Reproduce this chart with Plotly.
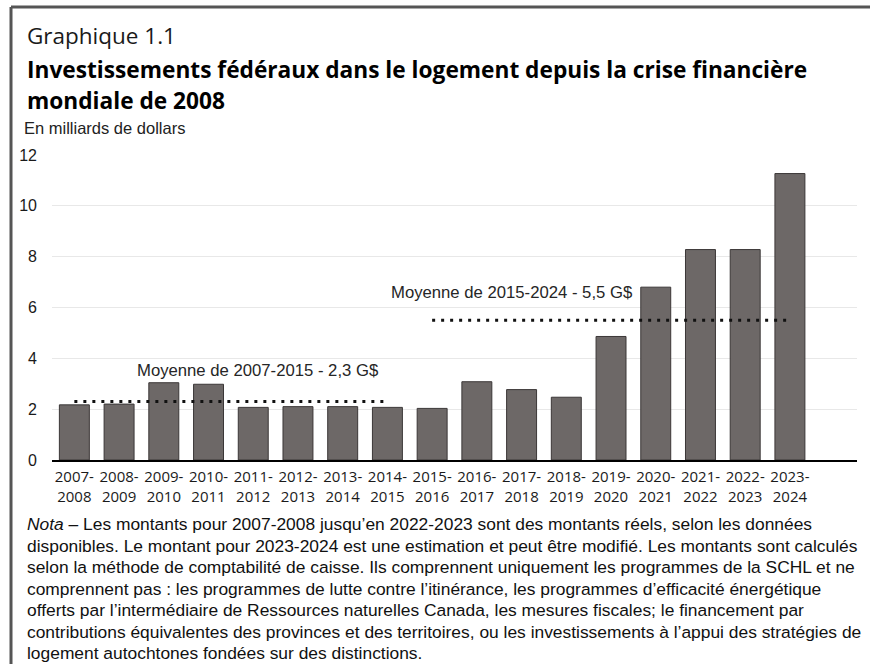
"""Graphique 1.1 - federal housing investments since the 2008 financial crisis."""

import plotly.graph_objects as go

# Data (billions of dollars)
years = [
    "2007-2008", "2008-2009", "2009-2010", "2010-2011", "2011-2012",
    "2012-2013", "2013-2014", "2014-2015", "2015-2016", "2016-2017",
    "2017-2018", "2018-2019", "2019-2020", "2020-2021", "2021-2022",
    "2022-2023", "2023-2024",
]
amounts = [
    2.17, 2.2, 3.04, 2.98, 2.07, 2.1, 2.1, 2.07, 2.03,
    3.08, 2.77, 2.47, 4.86, 6.8, 8.28, 8.28, 11.27,
]
avg_periods = ["2007-2015", "2015-2024"]
avg_values = [2.3, 5.5]
avg_spans = [("2007-2008", "2014-2015"), ("2015-2016", "2023-2024")]

title_small = "Graphique 1.1"
title_lines = [
    "Investissements fédéraux dans le logement depuis la crise financière",
    "mondiale de 2008",
]
unit_label = "En milliards de dollars"
note_lines = [
    "<i>Nota</i> – Les montants pour 2007-2008 jusqu’en 2022-2023 sont des montants réels, selon les données",
    "disponibles. Le montant pour 2023-2024 est une estimation et peut être modifié. Les montants sont calculés",
    "selon la méthode de comptabilité de caisse. Ils comprennent uniquement les programmes de la SCHL et ne",
    "comprennent pas : les programmes de lutte contre l’itinérance, les programmes d’efficacité énergétique",
    "offerts par l’intermédiaire de Ressources naturelles Canada, les mesures fiscales; le financement par",
    "contributions équivalentes des provinces et des territoires, ou les investissements à l’appui des stratégies de",
    "logement autochtones fondées sur des distinctions.",
]

W, H = 870, 664
L, R, T, B = 52, 13, 155, 204
PLOT_W = W - L - R
PLOT_H = H - T - B


def px(x):
    return (x - L) / PLOT_W


def py(y):
    return (H - B - y) / PLOT_H


def cat_label(s):
    a, b = s.split("-")
    return f"{a}-<br>{b}"


cats = [cat_label(y) for y in years]

fig = go.Figure()

fig.add_trace(
    go.Bar(
        x=cats,
        y=amounts,
        marker={"color": "#6d6867", "line": {"color": "#3b3737", "width": 1}},
        showlegend=False,
        hoverinfo="x+y",
    )
)

label_offsets = [(4.11, 3.54), (9.79, 6.6)]
for period, val, (start, end), (ax, ay) in zip(
    avg_periods, avg_values, avg_spans, label_offsets
):
    fig.add_trace(
        go.Scatter(
            x=[cat_label(start), cat_label(end)],
            y=[val, val],
            mode="lines",
            line={"color": "#111111", "width": 3, "dash": "3px,6px"},
            showlegend=False,
            hoverinfo="skip",
        )
    )
    fig.add_annotation(
        x=ax, y=ay, xref="x", yref="y",
        text=f"Moyenne de {period} - {str(val).replace('.', ',')} G$",
        showarrow=False, xanchor="center", yanchor="middle",
        font={"family": "Liberation Sans, Arial", "size": 16.7, "color": "#262626"},
    )

annotations = [
    (25, 35, title_small, {"family": "Open Sans", "size": 22.5, "color": "#1a1a1a"}),
    (25, 70, f"<b>{title_lines[0]}</b>", {"family": "Open Sans", "size": 22.7, "color": "#000000"}),
    (25, 100, f"<b>{title_lines[1]}</b>", {"family": "Open Sans", "size": 22.7, "color": "#000000"}),
    (22, 128, unit_label, {"family": "Liberation Sans, Arial", "size": 16.5, "color": "#222222"}),
]
for i, line in enumerate(note_lines):
    annotations.append(
        (25, 524 + 21.5 * i, line, {"family": "Liberation Sans, Arial", "size": 17.4, "color": "#111111"})
    )

for x, y, text, font in annotations:
    fig.add_annotation(
        x=px(x), y=py(y), xref="paper", yref="paper",
        text=text, showarrow=False, xanchor="left", yanchor="middle",
        font=font,
    )

# frame (top and left edges only, like the cropped source)
fig.add_shape(
    type="line", xref="paper", yref="paper",
    x0=px(11), x1=px(W + 5), y0=py(7), y1=py(7),
    line={"color": "#555555", "width": 3},
)
fig.add_shape(
    type="line", xref="paper", yref="paper",
    x0=px(11), x1=px(11), y0=py(7), y1=py(H + 5),
    line={"color": "#555555", "width": 3},
)

fig.update_layout(
    width=W,
    height=H,
    margin={"l": L, "r": R, "t": T, "b": B, "autoexpand": False},
    paper_bgcolor="white",
    plot_bgcolor="white",
    bargap=0.33,
    xaxis={
        "type": "category",
        "range": [-0.5, 17.5],
        "showline": True,
        "linecolor": "#000000",
        "linewidth": 2,
        "showgrid": False,
        "ticks": "",
        "tickangle": 0,
        "ticklabelstandoff": 2,
        "tickfont": {"family": "Open Sans", "size": 15, "color": "#1a1a1a"},
    },
    yaxis={
        "range": [0, 12],
        "dtick": 2,
        "showgrid": True,
        "gridcolor": "#e8e8e8",
        "gridwidth": 1,
        "zeroline": False,
        "showline": False,
        "ticks": "",
        "ticklabelstandoff": 14,
        "tickfont": {"family": "Liberation Sans, Arial", "size": 16, "color": "#1a1a1a"},
    },
)

fig.write_html(
    "out.html",
    config={"displayModeBar": False},
    post_script="document.body.style.margin='0';document.body.style.overflow='hidden';",
)
